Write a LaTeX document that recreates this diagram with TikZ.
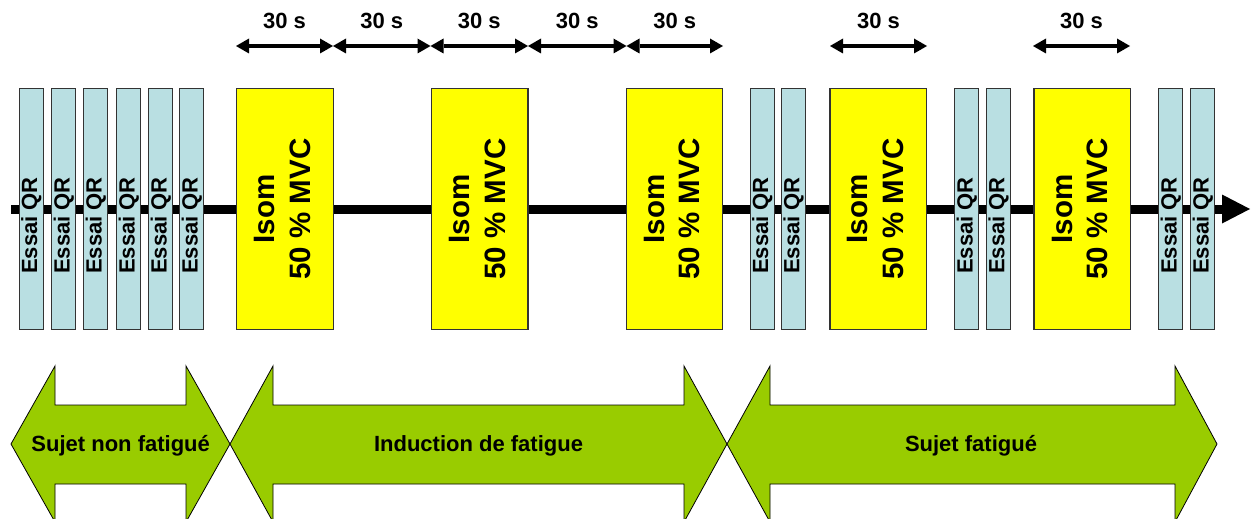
\documentclass[tikz,border=0pt]{standalone}
\usepackage{fontspec}
\setmainfont{Liberation Sans}
\usetikzlibrary{arrows.meta}
\definecolor{qrblue}{HTML}{B9DFE2}
\definecolor{isomyellow}{HTML}{FFFF00}
\definecolor{phasegreen}{HTML}{99CC00}
\definecolor{edgegray}{HTML}{333333}
\begin{document}
\begin{tikzpicture}[x=1pt,y=-1pt,
  essaibox/.style={draw=edgegray, line width=1.2pt, fill=qrblue, minimum width=24pt, minimum height=241pt, inner sep=0pt},
  essaitxt/.style={rotate=90, inner sep=0pt, font=\bfseries\fontsize{22}{26}\selectfont},
  isombox/.style={draw=edgegray, line width=1.2pt, fill=isomyellow, minimum width=96.5pt, minimum height=241pt, inner sep=0pt},
  isomtxt/.style={rotate=90, inner sep=0pt, align=center, font=\bfseries\fontsize{29.5}{35.7}\selectfont},
  timeline/.style={line width=9pt, -{Triangle[length=28pt,width=29pt,line width=0pt]}},
  durarrow/.style={line width=3.5pt, {Triangle[length=13pt,width=15pt,line width=0pt]}-{Triangle[length=13pt,width=15pt,line width=0pt]}},
  durlab/.style={anchor=base, yshift=17.7pt, inner sep=0pt, font=\bfseries\fontsize{22}{26}\selectfont},
  phase/.style={draw=black, line width=0.8pt, fill=phasegreen, line join=miter},
  phaselab/.style={anchor=base, inner sep=0pt, font=\bfseries\fontsize{22}{26}\selectfont}
]
\useasboundingbox (0,0) rectangle (1251,519);
\fill[white] (0,0) rectangle (1251,519);

% time line
\coordinate (tl0) at (11,209);
\coordinate (tl1) at (1250,209);
\draw[timeline] (tl0) -- (tl1);

% QR trials
\foreach \i/\x in {1/31.2, 2/63.8, 3/95.8, 4/128.8, 5/160.8, 6/191.8, 7/762.35, 8/793.65, 9/966.8, 10/998.5, 11/1170.8, 12/1202.8}{
  \node[essaibox] (e\i) at (\x,209) {};
  \node[essaitxt] (et\i) at ([yshift=-16.5pt]e\i.center) {Essai QR};
}

% isometric contractions
\foreach \i/\x in {1/284.85, 2/479.65, 3/674.5, 4/878.15, 5/1082.3}{
  \node[isombox] (y\i) at (\x,209) {};
  \node[isomtxt] (yt\i) at ([xshift=-2.4pt]y\i.center) {Isom\\50 \% MVC};
}

% 30 s durations
\coordinate (a0) at (236,46);
\coordinate (a1) at (333,46);
\coordinate (a2) at (430.5,46);
\coordinate (a3) at (528,46);
\coordinate (a4) at (626.5,46);
\coordinate (a5) at (723,46);
\coordinate (b0) at (830,46);
\coordinate (b1) at (927,46);
\coordinate (c0) at (1033,46);
\coordinate (c1) at (1130,46);
\draw[durarrow] (a0) -- node[durlab] (d1) {30 s} (a1);
\draw[durarrow] (a1) -- node[durlab] (d2) {30 s} (a2);
\draw[durarrow] (a2) -- node[durlab] (d3) {30 s} (a3);
\draw[durarrow] (a3) -- node[durlab] (d4) {30 s} (a4);
\draw[durarrow] (a4) -- node[durlab] (d5) {30 s} (a5);
\draw[durarrow] (b0) -- node[durlab] (d6) {30 s} (b1);
\draw[durarrow] (c0) -- node[durlab] (d7) {30 s} (c1);

% phases
\draw[phase] (11,444) -- (55,366) -- (55,405) -- (186,405) -- (186,366) -- (230,444) -- (186,522) -- (186,484) -- (55,484) -- (55,522) -- cycle;
\draw[phase] (230,444) -- (273,366) -- (273,405) -- (684,405) -- (684,366) -- (727,444) -- (684,522) -- (684,484) -- (273,484) -- (273,522) -- cycle;
\draw[phase] (727,444) -- (770,366) -- (770,405) -- (1175,405) -- (1175,366) -- (1217,444) -- (1175,522) -- (1175,484) -- (770,484) -- (770,522) -- cycle;
\node[phaselab] (p1) at (120.7,451.5) {Sujet non fatigué};
\node[phaselab] (p2) at (478.5,451.5) {Induction de fatigue};
\node[phaselab] (p3) at (971,451.5) {Sujet fatigué};
\end{tikzpicture}
\end{document}
